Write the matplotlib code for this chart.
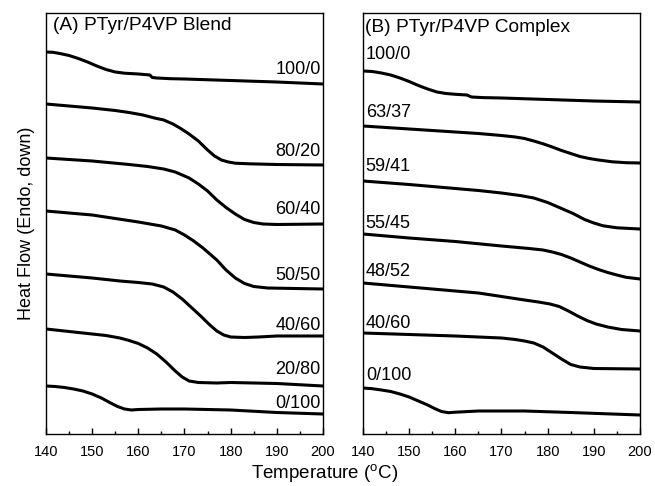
import matplotlib
matplotlib.use("Agg")
import matplotlib.pyplot as plt
from matplotlib.ticker import MultipleLocator

plt.rcParams['font.family'] = ['Liberation Sans', 'DejaVu Sans']
plt.rcParams['mathtext.fontset'] = 'custom'
plt.rcParams['mathtext.rm'] = 'Liberation Sans'

# ---------------- Panel A: blends (T in degC, heat flow in arb. units) ----------------
a_100_0_T = [140, 141.5, 143, 145, 147, 149, 151, 153, 155, 157, 160, 162.5, 163, 164, 167, 170, 180, 190, 200]
a_100_0_H = [-52, -52.3, -53.5, -55.5, -58.5, -62, -66, -69.5, -72, -73.2, -74, -75, -77.5, -78, -78.7, -79, -80.5, -82, -84]

a_80_20_T = [140, 145, 150, 155, 158, 161, 163.5, 165.5, 167.5, 169, 171, 173, 175, 176.5, 178, 179.5, 181, 184, 190, 200]
a_80_20_H = [-104, -106, -108, -110.5, -112.5, -115, -118, -120, -124, -128, -134, -141, -150, -156, -160, -162, -163.2, -163.8, -164.5, -165]

a_60_40_T = [140, 150, 158, 162, 165.5, 168, 171, 173, 175, 177, 179, 181, 183, 185, 187, 190, 200]
a_60_40_H = [-158, -161, -164.5, -166.5, -169, -172, -178, -184, -191, -200, -207.5, -214, -219.5, -222.5, -224, -224.5, -224]

a_50_50_T = [140, 150, 160, 165, 168, 170, 172, 174, 175.5, 177, 179, 181, 183, 185, 188, 200]
a_50_50_H = [-211, -215, -222, -226, -230, -235, -241, -248, -254, -260, -270, -278, -283.5, -286.5, -288, -289]

a_40_60_T = [140, 150, 156, 160, 163, 165.5, 167.5, 169.5, 171.5, 173.5, 175.5, 177, 178.5, 180, 183, 186, 190, 200]
a_40_60_H = [-274, -278, -281, -282.5, -284, -287, -292, -299, -307.5, -316, -325, -331, -335, -337, -337.5, -337, -336, -336]

a_20_80_T = [140, 145, 150, 153, 156, 158, 160, 162, 164, 166, 168, 169.5, 171, 173, 177, 180, 190, 200]
a_20_80_H = [-329, -331.5, -334, -335.5, -338, -340.5, -343.5, -348, -354, -362, -371, -377, -381, -382.5, -383, -382.5, -383.5, -386]

a_0_100_T = [140, 142, 144, 146, 148, 150, 152, 154, 155.5, 157, 158.5, 160, 165, 170, 180, 190, 200]
a_0_100_H = [-386, -386.5, -387.5, -389, -391, -394, -398, -403, -406.5, -409, -410, -409.5, -409, -409, -410, -412.5, -414]

a_labels = ['100/0', '80/20', '60/40', '50/50', '40/60', '20/80', '0/100']
a_label_y = [-70, -152, -210, -275, -326, -370, -403]

# ---------------- Panel B: complexes ----------------
b_100_0_T = [140, 142, 144, 146, 148, 150, 152, 154, 156, 158, 160, 162.5, 163.5, 166, 170, 180, 190, 200]
b_100_0_H = [-71, -71.5, -73, -75, -78, -81.5, -85.5, -89, -92, -93.5, -94.3, -95, -97, -97.6, -98, -99.5, -101, -102]

b_63_37_T = [140, 150, 160, 165, 170, 173, 175, 177, 179, 181, 183, 185, 187, 189, 191, 194, 197, 200]
b_63_37_H = [-126, -129, -132, -133.5, -135.5, -137, -138.5, -141, -143.8, -147, -150.5, -153.5, -156.5, -158.5, -160, -161.8, -162.7, -163]

b_59_41_T = [140, 150, 160, 165, 170, 174, 177, 180, 183, 185.5, 188, 190, 192, 195, 200]
b_59_41_H = [-181, -184.5, -188.5, -190.5, -193, -195.5, -198, -202.5, -208.5, -213.5, -219.5, -223, -225.8, -227.8, -229]

b_55_45_T = [140, 150, 160, 170, 176, 179, 181, 183, 185, 187, 189, 191, 193, 195, 197, 200]
b_55_45_H = [-234, -238, -241.5, -246, -248.5, -250, -252, -254.5, -258, -262, -266, -269.5, -272.5, -275, -277.3, -279]

b_48_52_T = [140, 150, 160, 165, 170, 175, 178, 180.5, 182.5, 184.5, 186.5, 188.5, 190.5, 193, 196, 200]
b_48_52_H = [-283, -287, -291, -293, -296.5, -300, -302, -304, -306.5, -311, -316, -320.5, -324, -327, -329.5, -331]

b_40_60_T = [140, 150, 160, 165, 170, 173, 175, 177, 179, 181, 183, 185, 187, 190, 200]
b_40_60_H = [-333, -334.5, -336, -337, -338, -339.5, -341, -343, -347, -353, -359, -364.5, -367, -368.5, -369]

b_0_100_T = [140, 142, 144, 146, 148, 150, 152, 154, 155.5, 157, 158.5, 160, 165, 175, 185, 200]
b_0_100_H = [-388, -388.7, -390, -391.5, -394, -397, -401, -405, -408.5, -411.5, -412.7, -412.2, -411, -411, -412.5, -415]

b_labels = ['100/0', '63/37', '59/41', '55/45', '48/52', '40/60', '0/100']
b_label_y = [-55, -113, -167, -223, -272, -323, -376]

a_curves = [(a_100_0_T, a_100_0_H), (a_80_20_T, a_80_20_H), (a_60_40_T, a_60_40_H),
            (a_50_50_T, a_50_50_H), (a_40_60_T, a_40_60_H), (a_20_80_T, a_20_80_H),
            (a_0_100_T, a_0_100_H)]
b_curves = [(b_100_0_T, b_100_0_H), (b_63_37_T, b_63_37_H), (b_59_41_T, b_59_41_H),
            (b_55_45_T, b_55_45_H), (b_48_52_T, b_48_52_H), (b_40_60_T, b_40_60_H),
            (b_0_100_T, b_0_100_H)]

x_ticks = [140, 150, 160, 170, 180, 190, 200]

W, H = 655, 486
fig = plt.figure(figsize=(W / 100, H / 100), dpi=100)
axA = fig.add_axes([46 / W, 1 - 434 / H, 277 / W, 421 / H])
axB = fig.add_axes([363 / W, 1 - 434 / H, 277 / W, 421 / H])

for ax, curves in ((axA, a_curves), (axB, b_curves)):
    for T, Hf in curves:
        ax.plot(T, Hf, color='black', lw=2.2, solid_capstyle='round', solid_joinstyle='round')
    ax.set_xlim(140, 200)
    ax.set_ylim(-434, -13)
    ax.set_xticks(x_ticks)
    ax.xaxis.set_minor_locator(MultipleLocator(5))
    ax.set_yticks([])
    ax.tick_params(axis='x', which='major', direction='in', length=4, width=1,
                   labelsize=10.5, pad=8)
    ax.tick_params(axis='x', which='minor', direction='in', length=2.5, width=1)
    for s in ax.spines.values():
        s.set_linewidth(1.0)

for lab, y in zip(a_labels, a_label_y):
    axA.text(199.5, y, lab, ha='right', va='center', fontsize=13)
for lab, y in zip(b_labels, b_label_y):
    axB.text(140.6, y, lab, ha='left', va='center', fontsize=13)

axA.text(141.5, -26, '(A) PTyr/P4VP Blend', ha='left', va='center', fontsize=13.8)
axB.text(140.4, -28, '(B) PTyr/P4VP Complex', ha='left', va='center', fontsize=13.8)

axA.set_ylabel('Heat Flow (Endo, down)', fontsize=13, labelpad=8)
fig.text(325 / W, 1 - 474 / H, r'Temperature ($^{\mathrm{o}}$C)', ha='center', va='center', fontsize=13.5)

fig.savefig('out.png', dpi=100)
